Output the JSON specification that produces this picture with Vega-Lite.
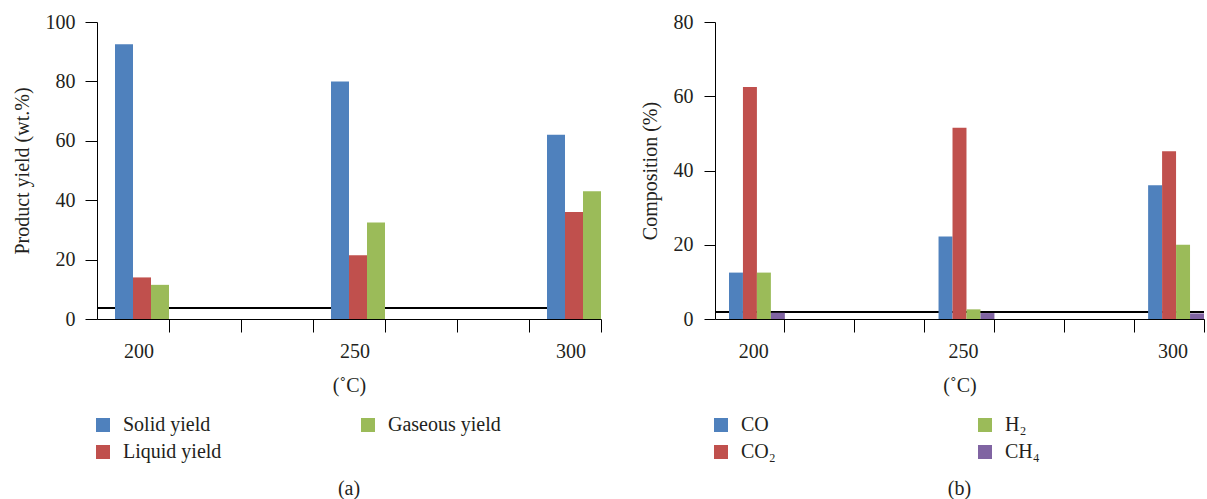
{
  "$schema": "https://vega.github.io/schema/vega-lite/v6.json",
  "background": "white",
  "padding": {"left": 12, "top": 12, "right": 0, "bottom": 0},
  "spacing": 38,
  "config": {
    "font": "Liberation Serif",
    "view": {"stroke": null},
    "axis": {
      "labelFont": "Liberation Serif", "titleFont": "Liberation Serif",
      "labelFontSize": 20, "titleFontSize": 20,
      "labelColor": "#231f20", "titleColor": "#231f20",
      "domainColor": "#000000", "tickColor": "#000000",
      "titleFontWeight": "normal", "grid": false
    },
    "legend": {
      "labelFont": "Liberation Serif", "labelFontSize": 20, "labelColor": "#231f20",
      "symbolType": "square", "symbolSize": 196, "symbolStrokeWidth": 0, "symbolOpacity": 1,
      "symbolOffset": -4, "labelOffset": 10, "rowPadding": 7
    },
    "title": {"font": "Liberation Serif", "fontSize": 20, "fontWeight": "normal", "color": "#231f20"}
  },
  "resolve": {"scale": {"color": "independent"}},
  "hconcat": [
    {
      "width": 504,
      "height": 297,
      "title": {"text": "(a)", "orient": "bottom", "offset": 17},
      "data": {"values": [
        {"T": "200", "Series": "Solid yield", "Key": "200 Solid yield", "Value": 92.5},
        {"T": "200", "Series": "Liquid yield", "Key": "200 Liquid yield", "Value": 14},
        {"T": "200", "Series": "Gaseous yield", "Key": "200 Gaseous yield", "Value": 11.5},
        {"T": "250", "Series": "Solid yield", "Key": "250 Solid yield", "Value": 80},
        {"T": "250", "Series": "Liquid yield", "Key": "250 Liquid yield", "Value": 21.5},
        {"T": "250", "Series": "Gaseous yield", "Key": "250 Gaseous yield", "Value": 32.5},
        {"T": "300", "Series": "Solid yield", "Key": "300 Solid yield", "Value": 62},
        {"T": "300", "Series": "Liquid yield", "Key": "300 Liquid yield", "Value": 36},
        {"T": "300", "Series": "Gaseous yield", "Key": "300 Gaseous yield", "Value": 43}
      ]},
      "layer": [
        {
          "mark": {"type": "rule", "color": "#000000", "strokeWidth": 1},
          "encoding": {"y": {"datum": 3.7, "type": "quantitative"}}
        },
        {
          "mark": {"type": "bar"},
          "encoding": {
            "x": {
              "field": "Key", "type": "nominal",
              "scale": {
                "domain": [
                  "200 0", "200 Solid yield", "200 Liquid yield", "200 Gaseous yield",
                  "p1 a", "p1 b", "p1 c", "p1 d",
                  "p2 a", "p2 b", "p2 c", "p2 d",
                  "250 0", "250 Solid yield", "250 Liquid yield", "250 Gaseous yield",
                  "p3 a", "p3 b", "p3 c", "p3 d",
                  "p4 a", "p4 b", "p4 c", "p4 d",
                  "300 0", "300 Solid yield", "300 Liquid yield", "300 Gaseous yield"
                ],
                "paddingInner": 0, "paddingOuter": 0
              },
              "axis": {
                "title": "(˚C)",
                "values": ["200 Gaseous yield", "p1 d", "p2 d", "250 Gaseous yield", "p3 d", "p4 d", "300 Gaseous yield"],
                "bandPosition": 1, "tickSize": 13, "labelPadding": 9,
                "labelOffset": -21, "titlePadding": 14, "labelAngle": 0,
                "labelExpr": "test(/^[0-9]/, datum.value) ? substring(datum.value, 0, 3) : ''"
              }
            },
            "y": {
              "field": "Value", "type": "quantitative",
              "scale": {"domain": [0, 100]},
              "axis": {"title": "Product yield (wt.%)", "values": [0, 20, 40, 60, 80, 100], "tickSize": 12, "labelPadding": 10, "titlePadding": 13}
            },
            "color": {
              "field": "Series", "type": "nominal",
              "scale": {"domain": ["Solid yield", "Gaseous yield", "Liquid yield"], "range": ["#4F81BD", "#9BBB59", "#C0504D"]},
              "legend": {"title": null, "orient": "bottom", "columns": 2, "columnPadding": 139, "offset": 20}
            }
          }
        }
      ]
    },
    {
      "width": 489,
      "height": 297,
      "title": {"text": "(b)", "orient": "bottom", "offset": 17},
      "data": {"values": [
        {"T": "200", "Series": "CO", "Key": "200 CO", "Value": 12.5},
        {"T": "200", "Series": "CO₂", "Key": "200 CO₂", "Value": 62.5},
        {"T": "200", "Series": "H₂", "Key": "200 H₂", "Value": 12.5},
        {"T": "200", "Series": "CH₄", "Key": "200 CH₄", "Value": 1.7},
        {"T": "250", "Series": "CO", "Key": "250 CO", "Value": 22.2},
        {"T": "250", "Series": "CO₂", "Key": "250 CO₂", "Value": 51.5},
        {"T": "250", "Series": "H₂", "Key": "250 H₂", "Value": 2.6},
        {"T": "250", "Series": "CH₄", "Key": "250 CH₄", "Value": 1.6},
        {"T": "300", "Series": "CO", "Key": "300 CO", "Value": 36},
        {"T": "300", "Series": "CO₂", "Key": "300 CO₂", "Value": 45.2},
        {"T": "300", "Series": "H₂", "Key": "300 H₂", "Value": 20},
        {"T": "300", "Series": "CH₄", "Key": "300 CH₄", "Value": 1.5}
      ]},
      "layer": [
        {
          "mark": {"type": "rule", "color": "#000000", "strokeWidth": 1},
          "encoding": {"y": {"datum": 1.9, "type": "quantitative"}}
        },
        {
          "mark": {"type": "bar"},
          "encoding": {
            "x": {
              "field": "Key", "type": "nominal",
              "scale": {
                "domain": [
                  "200 0", "200 CO", "200 CO₂", "200 H₂", "200 CH₄",
                  "p1 a", "p1 b", "p1 c", "p1 d", "p1 e",
                  "p2 a", "p2 b", "p2 c", "p2 d", "p2 e",
                  "250 0", "250 CO", "250 CO₂", "250 H₂", "250 CH₄",
                  "p3 a", "p3 b", "p3 c", "p3 d", "p3 e",
                  "p4 a", "p4 b", "p4 c", "p4 d", "p4 e",
                  "300 0", "300 CO", "300 CO₂", "300 H₂", "300 CH₄"
                ],
                "paddingInner": 0, "paddingOuter": 0
              },
              "axis": {
                "title": "(˚C)",
                "values": ["200 CH₄", "p1 e", "p2 e", "250 CH₄", "p3 e", "p4 e", "300 CH₄"],
                "bandPosition": 1, "tickSize": 13, "labelPadding": 9,
                "labelOffset": -24, "titlePadding": 14, "labelAngle": 0,
                "labelExpr": "test(/^[0-9]/, datum.value) ? substring(datum.value, 0, 3) : ''"
              }
            },
            "y": {
              "field": "Value", "type": "quantitative",
              "scale": {"domain": [0, 80]},
              "axis": {"title": "Composition (%)", "values": [0, 20, 40, 60, 80], "tickSize": 11, "labelPadding": 11, "titlePadding": 13}
            },
            "color": {
              "field": "Series", "type": "nominal",
              "scale": {"domain": ["CO", "H₂", "CO₂", "CH₄"], "range": ["#4F81BD", "#9BBB59", "#C0504D", "#8064A2"]},
              "legend": {"title": null, "orient": "bottom", "columns": 2, "columnPadding": 202, "offset": 20}
            }
          }
        }
      ]
    }
  ]
}
